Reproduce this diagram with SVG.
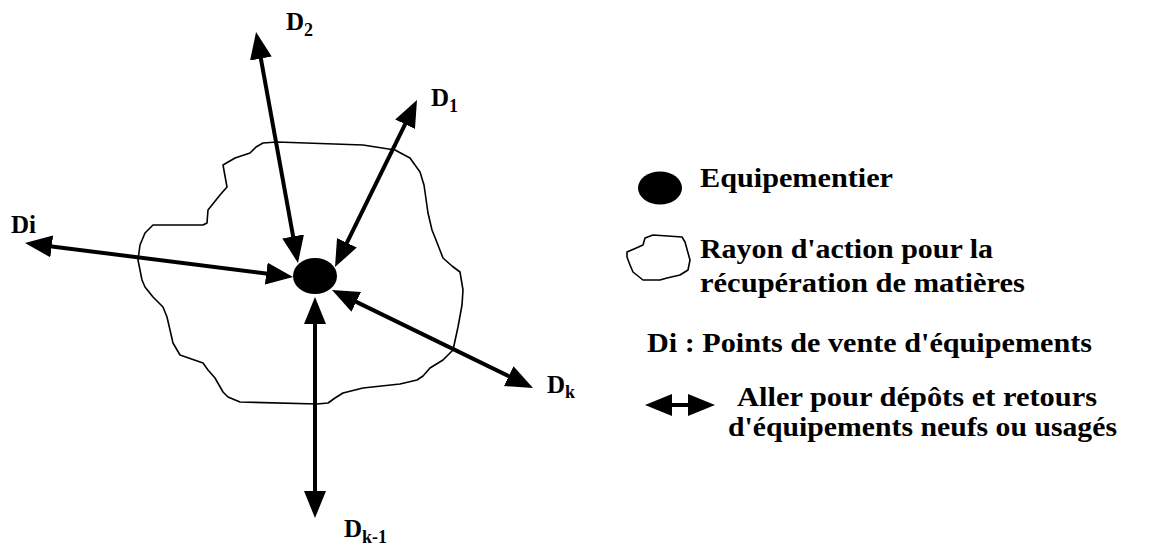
<svg xmlns="http://www.w3.org/2000/svg" width="1149" height="546" viewBox="0 0 1149 546">
<style>
.t{font-family:"Liberation Serif","Times New Roman",Times,serif;font-weight:700;fill:#000}
.lbl{font-size:25px}
.sub{font-size:18px}
.leg{font-size:27px}
.blob{fill:none;stroke:#000;stroke-width:1.6;stroke-linejoin:round}
.arr{stroke:#000;stroke-width:4;fill:none;marker-start:url(#ah);marker-end:url(#ah)}
</style>
<defs>
<marker id="ah" markerUnits="userSpaceOnUse" markerWidth="28" markerHeight="24" viewBox="0 0 28 24" refX="20" refY="11" orient="auto-start-reverse">
<path d="M0,0 L27,11 L0,22 z" fill="#000"/>
</marker>
</defs>
<rect width="1149" height="546" fill="#fff"/>
<g id="zone">
<path class="blob" d="M263,143 L277,142 L363,145 L395,150 L410,158 L420,172 L424,185 L428,213 L432,230 L436,240 L443,258 L452,266 L460,272 L463,290 L462,305 L458,327 L453,350 L443,360 L430,368 L423,376 L417,380 L400,384 L363,388 L343,393 L335,398 L328,403 L317,404 L240,402 L228,397 L223,392 L215,378 L208,370 L203,363 L180,355 L173,343 L167,317 L163,307 L153,297 L145,287 L142,280 L138,260 L140,245 L145,233 L153,225 L203,225 L207,223 L208,210 L220,195 L227,187 L223,165 L235,158 L250,153 L256,147 Z"/>
</g>
<g id="connectors">
<line class="arr" x1="257.3" y1="38.9" x2="296.7" y2="256.1"/>
<line class="arr" x1="413.9" y1="106.3" x2="338.1" y2="260.7"/>
<line class="arr" x1="31.9" y1="243.9" x2="286.1" y2="276.1"/>
<line class="arr" x1="315" y1="511" x2="315" y2="304"/>
<line class="arr" x1="526.7" y1="384.9" x2="338.3" y2="293.1"/>
</g>
<g id="equipementier">
<ellipse cx="315" cy="276" rx="22" ry="18" fill="#000"/>
</g>
<g id="D2"><text class="t lbl" x="286" y="30">D<tspan class="sub" dy="6">2</tspan></text></g>
<g id="D1"><text class="t lbl" x="431" y="106">D<tspan class="sub" dy="6">1</tspan></text></g>
<g id="Di"><text class="t lbl" x="11" y="233">Di</text></g>
<g id="Dk"><text class="t lbl" x="547" y="393">D<tspan class="sub" dy="5">k</tspan></text></g>
<g id="Dk-1"><text class="t lbl" x="344" y="537">D<tspan class="sub" dy="6">k-1</tspan></text></g>
<g id="legend">
<ellipse cx="660" cy="188" rx="22" ry="16.5" fill="#000"/>
<text class="t leg" x="700" y="187" textLength="193" lengthAdjust="spacingAndGlyphs">Equipementier</text>
<path class="blob" d="M627,252 L634,249 L643,245 L645,238 L653,235 L682,237 L685,242 L690,260 L688,270 L680,275 L667,278 L660,280 L643,280 L633,272 L630,265 L627,257 Z"/>
<text class="t leg" x="700" y="258" textLength="293" lengthAdjust="spacingAndGlyphs">Rayon d'action pour la</text>
<text class="t leg" x="700" y="292" textLength="325" lengthAdjust="spacingAndGlyphs">récupération de matières</text>
<text class="t leg" x="647" y="352" textLength="445" lengthAdjust="spacingAndGlyphs">Di : Points de vente d'équipements</text>
<line class="arr" x1="652" y1="405" x2="708" y2="405"/>
<text class="t leg" x="737" y="406" textLength="360" lengthAdjust="spacingAndGlyphs">Aller pour dépôts et retours</text>
<text class="t leg" x="728" y="436" textLength="389" lengthAdjust="spacingAndGlyphs">d'équipements neufs ou usagés</text>
</g>
</svg>
